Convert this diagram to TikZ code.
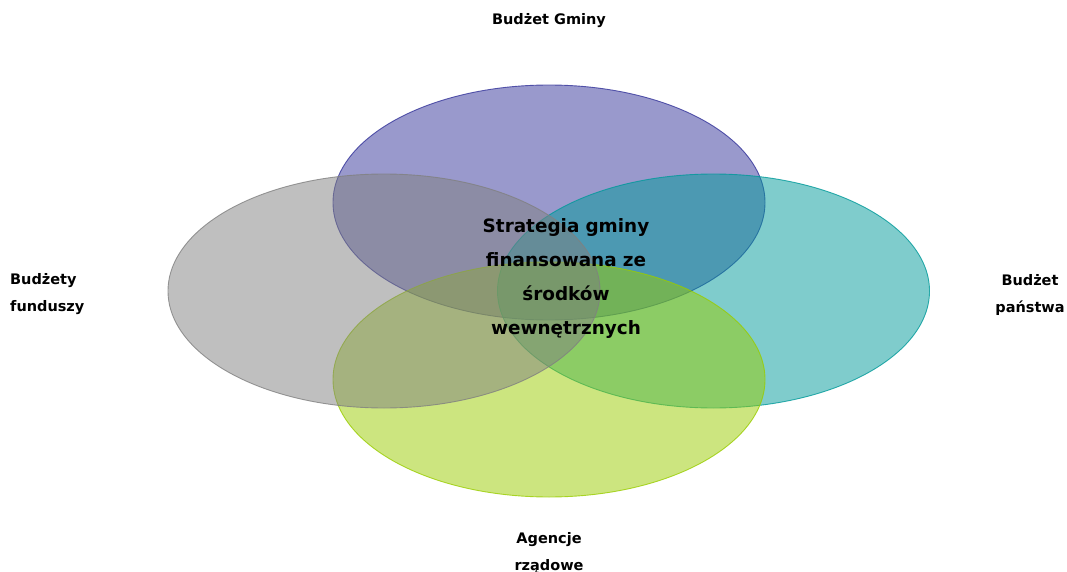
\documentclass[tikz,border=0pt]{standalone}
\usepackage{fontspec}
\setmainfont{DejaVu Sans}
\definecolor{cpurple}{HTML}{333399}
\definecolor{cgray}{HTML}{808080}
\definecolor{cteal}{HTML}{009999}
\definecolor{clime}{HTML}{99CC00}
\begin{document}
\begin{tikzpicture}[x=1pt,y=-1pt,
  petal/.style={fill opacity=0.5, draw opacity=0.8, line width=0.9pt},
  outer/.style={font=\fontsize{14.5}{27}\selectfont\bfseries, inner sep=0pt},
  center/.style={font=\fontsize{18.4}{34}\selectfont\bfseries, align=center, inner sep=0pt, text width=220pt}]
\useasboundingbox (0,0) rectangle (1067,572);
\path[petal, fill=cpurple, draw=cpurple] (549,202.5) ellipse [x radius=216, y radius=117.5];
\path[petal, fill=cteal, draw=cteal] (713.5,291) ellipse [x radius=216, y radius=117];
\path[petal, fill=clime, draw=clime] (549,379.5) ellipse [x radius=216, y radius=117.5];
\path[petal, fill=cgray, draw=cgray] (384,291) ellipse [x radius=216, y radius=117];
\node[center] (c) at (566,278) {Strategia gminy\\finansowana ze\\środków\\wewnętrznych};
\node[outer] (t) at (549,21) {Budżet Gminy};
\node[outer, align=left, anchor=west] (l) at (10,294.5) {Budżety\\funduszy};
\node[outer, align=center] (r) at (1030,294.5) {Budżet\\państwa};
\node[outer, align=center] (b) at (549,553) {Agencje\\rządowe};
\end{tikzpicture}
\end{document}
